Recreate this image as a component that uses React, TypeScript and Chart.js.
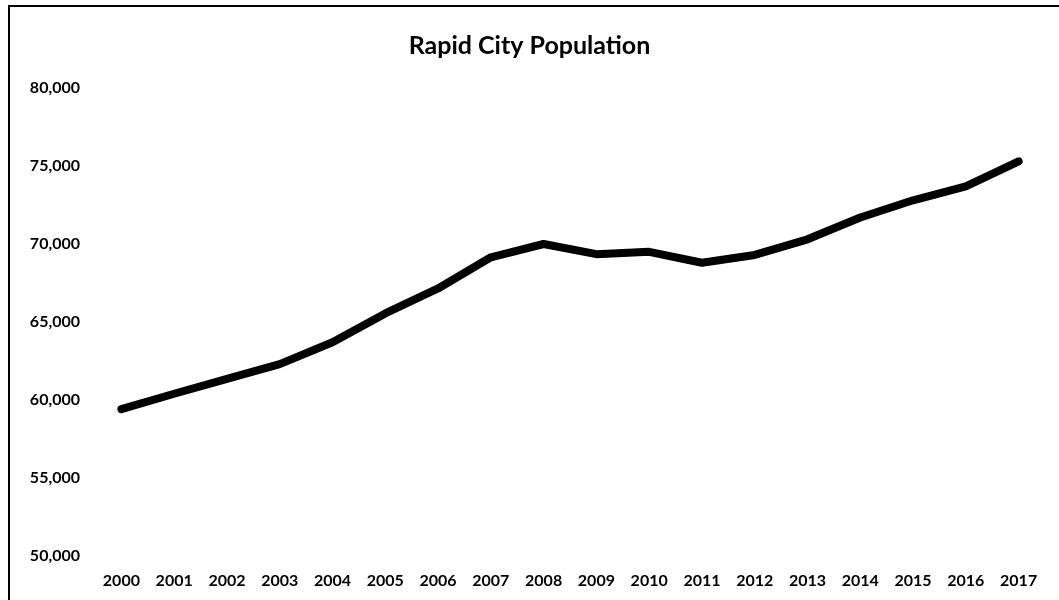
import React, { useEffect, useRef } from "react";
import { Chart, registerables } from "chart.js";

Chart.register(...registerables);

const TITLE = "Rapid City Population";
const YEARS = ["2000", "2001", "2002", "2003", "2004", "2005", "2006", "2007", "2008", "2009", "2010", "2011", "2012", "2013", "2014", "2015", "2016", "2017"];
const POPULATION = [59420, 60400, 61350, 62300, 63700, 65550, 67150, 69150, 70000, 69350, 69500, 68800, 69300, 70300, 71700, 72800, 73700, 75300];
const Y_MIN = 50000;
const Y_MAX = 80000;
const Y_STEP = 5000;

export default function App() {
  const ref = useRef<HTMLCanvasElement | null>(null);

  useEffect(() => {
    if (!ref.current) return;
    const chart = new Chart(ref.current, {
      type: "line",
      data: {
        labels: YEARS,
        datasets: [
          {
            label: "Population",
            data: POPULATION,
            borderColor: "#000000",
            backgroundColor: "#000000",
            borderWidth: 8,
            pointRadius: 0,
            tension: 0,
            borderCapStyle: "round",
            borderJoinStyle: "round",
          },
        ],
      },
      options: {
        animation: false,
        responsive: false,
        maintainAspectRatio: false,
        layout: { padding: { left: 14, right: 14, top: 0, bottom: 0 } },
        plugins: {
          legend: { display: false },
          tooltip: { enabled: false },
          title: {
            display: true,
            text: TITLE,
            color: "#000",
            font: { family: "Lato", size: 25, weight: "bold", lineHeight: 1.2 },
            padding: { top: 31, bottom: 27 },
          },
        },
        scales: {
          x: {
            offset: true,
            grid: { display: false, drawTicks: false },
            border: { display: false },
            afterFit: (s: any) => {
              s.height = 44;
            },
            ticks: {
              color: "#000",
              font: { family: "Lato", size: 16, weight: "bold" },
              padding: 15,
              maxRotation: 0,
              autoSkip: false,
            },
          },
          y: {
            min: Y_MIN,
            max: Y_MAX,
            grid: { display: false, drawTicks: false },
            border: { display: false },
            afterFit: (s: any) => {
              s.width = 81;
            },
            ticks: {
              stepSize: Y_STEP,
              color: "#000",
              font: { family: "Lato", size: 16, weight: "bold" },
              padding: 15,
              callback: (v: any) => Number(v).toLocaleString("en-US"),
            },
          },
        },
      },
    });
    return () => chart.destroy();
  }, []);

  return (
    <div style={{ position: "fixed", left: 0, top: 0, width: 1059, height: 600, background: "#fff" }}>
      <canvas ref={ref} width={1059} height={600} style={{ position: "absolute", left: 0, top: 0 }} />
      <div style={{ position: "absolute", left: 8, top: 5, width: 2, height: 595, background: "#000" }} />
      <div style={{ position: "absolute", left: 8, top: 5, width: 1051, height: 2, background: "#000" }} />
    </div>
  );
}
